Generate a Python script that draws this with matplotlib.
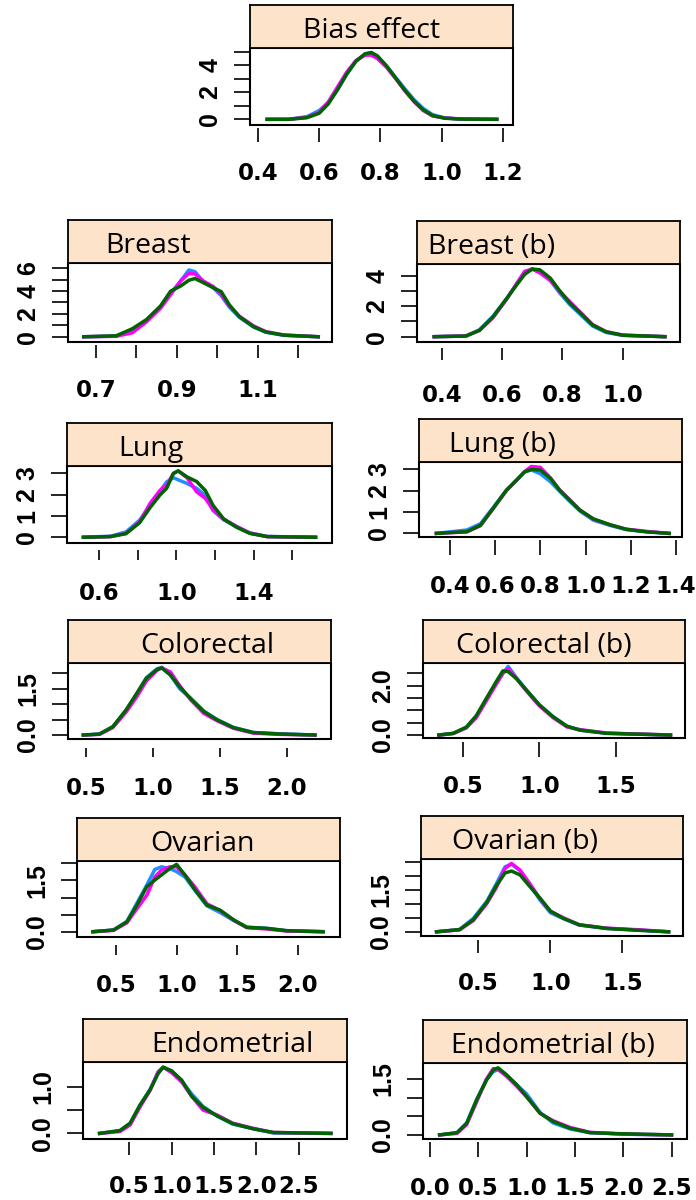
import numpy as np
import matplotlib
matplotlib.use("Agg")
import matplotlib.pyplot as plt
from matplotlib.patches import Rectangle

W, H = 696, 1200
STRIP_COLOR = "#fde3c9"
LINE_COLORS = ["#1e90ff", "#ff00ff", "#006400"]   # blue, magenta, dark green
XTICK_FONT = "DejaVu Sans"
YTICK_FONT = "Liberation Sans"
TITLE_FONT = ["Open Sans", "DejaVu Sans"]

# ---------------- data (density curves) ----------------
bias_x = [0.43, 0.50, 0.56, 0.60, 0.63, 0.66, 0.69, 0.72, 0.75, 0.77, 0.79, 0.82, 0.85, 0.88, 0.91, 0.94, 0.97, 1.01, 1.06, 1.18]
bias_blue = [0, 0.0, 0.2, 0.65, 1.25, 2.2, 3.35, 4.3, 4.85, 4.9, 4.65, 3.95, 3.1, 2.25, 1.45, 0.8, 0.35, 0.1, 0.02, 0]
bias_magenta = [0, 0.0, 0.15, 0.5, 1.3, 2.4, 3.5, 4.35, 4.75, 4.75, 4.5, 3.85, 3.0, 2.1, 1.3, 0.65, 0.25, 0.1, 0.03, 0]
bias_green = [0, 0.0, 0.12, 0.45, 1.15, 2.2, 3.35, 4.3, 4.85, 4.95, 4.7, 3.95, 3.05, 2.15, 1.35, 0.7, 0.28, 0.08, 0.02, 0]
bias_xt = [0.4, 0.6, 0.8, 1.0, 1.2]
bias_xl = ["0.4", "0.6", "0.8", "1.0", "1.2"]
bias_yt = [0, 1, 2, 3, 4, 5]
bias_yl = ["0", "", "2", "", "4", ""]

breast_x = [0.67, 0.75, 0.79, 0.825, 0.86, 0.885, 0.91, 0.93, 0.945, 0.965, 0.99, 1.01, 1.03, 1.055, 1.09, 1.12, 1.165, 1.25]
breast_blue = [0, 0.06, 0.45, 1.4, 2.6, 3.8, 4.9, 5.85, 5.7, 4.85, 4.3, 3.6, 2.6, 1.7, 0.85, 0.4, 0.12, 0]
breast_magenta = [0, 0.04, 0.35, 1.3, 2.5, 3.7, 4.9, 5.55, 5.5, 4.9, 4.4, 3.7, 2.7, 1.8, 0.95, 0.45, 0.15, 0]
breast_green = [0, 0.08, 0.7, 1.5, 2.7, 4.0, 4.45, 4.95, 5.1, 4.75, 4.3, 3.95, 2.8, 1.75, 0.88, 0.42, 0.14, 0]
breast_xt = [0.7, 0.8, 0.9, 1.0, 1.1, 1.2]
breast_xl = ["0.7", "", "0.9", "", "1.1", ""]
breast_yt = [0, 1, 2, 3, 4, 5, 6]
breast_yl = ["0", "", "2", "", "4", "", "6"]

breastb_x = [0.375, 0.48, 0.525, 0.57, 0.615, 0.65, 0.675, 0.70, 0.725, 0.76, 0.79, 0.825, 0.86, 0.90, 0.945, 1.0, 1.14]
breastb_blue = [0, 0.04, 0.45, 1.35, 2.5, 3.5, 4.15, 4.45, 4.25, 3.7, 2.9, 2.1, 1.45, 0.7, 0.28, 0.08, 0]
breastb_magenta = [0, 0.05, 0.4, 1.25, 2.45, 3.55, 4.3, 4.45, 4.2, 3.7, 3.0, 2.3, 1.6, 0.8, 0.33, 0.1, 0]
breastb_green = [0, 0.04, 0.42, 1.3, 2.5, 3.45, 4.1, 4.45, 4.4, 3.85, 3.05, 2.2, 1.55, 0.77, 0.32, 0.1, 0]
breastb_xt = [0.4, 0.6, 0.8, 1.0]
breastb_xl = ["0.4", "0.6", "0.8", "1.0"]
breastb_yt = [0, 1, 2, 3, 4]
breastb_yl = ["0", "", "2", "", "4"]

lung_x = [0.52, 0.66, 0.74, 0.81, 0.865, 0.915, 0.95, 0.985, 1.01, 1.055, 1.105, 1.15, 1.19, 1.245, 1.31, 1.38, 1.47, 1.72]
lung_blue = [0, 0.05, 0.25, 0.8, 1.5, 2.15, 2.6, 2.8, 2.7, 2.53, 2.3, 1.98, 1.25, 0.82, 0.5, 0.2, 0.04, 0]
lung_magenta = [0, 0.03, 0.18, 0.72, 1.6, 2.2, 2.45, 3.0, 3.12, 2.8, 2.14, 1.83, 1.3, 0.85, 0.52, 0.2, 0.03, 0]
lung_green = [0, 0.03, 0.17, 0.68, 1.4, 1.98, 2.3, 3.0, 3.12, 2.84, 2.62, 2.2, 1.5, 0.86, 0.48, 0.18, 0.03, 0]
lung_xt = [0.6, 0.8, 1.0, 1.2, 1.4, 1.6]
lung_xl = ["0.6", "", "1.0", "", "1.4", ""]
lung_yt = [0, 1, 2, 3]
lung_yl = ["0", "1", "2", "3"]

lungb_x = [0.34, 0.475, 0.535, 0.59, 0.65, 0.695, 0.73, 0.76, 0.80, 0.845, 0.885, 0.93, 0.975, 1.035, 1.11, 1.18, 1.27, 1.37]
lungb_blue = [0, 0.16, 0.45, 1.2, 2.03, 2.5, 2.88, 2.98, 2.8, 2.42, 1.98, 1.5, 1.05, 0.62, 0.37, 0.18, 0.08, 0]
lungb_magenta = [0, 0.07, 0.36, 1.15, 2.0, 2.5, 2.9, 3.14, 3.1, 2.6, 2.05, 1.58, 1.1, 0.66, 0.4, 0.2, 0.09, 0]
lungb_green = [0, 0.08, 0.38, 1.15, 2.03, 2.5, 2.88, 3.0, 2.97, 2.58, 2.03, 1.56, 1.09, 0.68, 0.4, 0.19, 0.07, 0]
lungb_xt = [0.4, 0.6, 0.8, 1.0, 1.2, 1.4]
lungb_xl = ["0.4", "0.6", "0.8", "1.0", "1.2", "1.4"]
lungb_yt = [0, 1, 2, 3]
lungb_yl = ["0", "1", "2", "3"]

colo_x = [0.48, 0.6, 0.7, 0.8, 0.88, 0.95, 1.03, 1.065, 1.13, 1.2, 1.28, 1.38, 1.48, 1.6, 1.75, 1.95, 2.21]
colo_blue = [0, 0.03, 0.27, 0.81, 1.35, 1.86, 2.15, 2.2, 1.95, 1.5, 1.2, 0.78, 0.5, 0.25, 0.08, 0.04, 0]
colo_magenta = [0, 0.02, 0.24, 0.75, 1.25, 1.75, 2.1, 2.18, 2.05, 1.6, 1.15, 0.7, 0.46, 0.22, 0.06, 0.02, 0]
colo_green = [0, 0.03, 0.27, 0.82, 1.36, 1.84, 2.13, 2.18, 1.95, 1.56, 1.19, 0.76, 0.49, 0.24, 0.08, 0.03, 0]
colo_xt = [0.5, 1.0, 1.5, 2.0]
colo_xl = ["0.5", "1.0", "1.5", "2.0"]
colo_yt = [0, 0.5, 1.0, 1.5, 2.0]
colo_yl = ["0.0", "", "", "1.5", ""]

colob_x = [0.34, 0.435, 0.52, 0.585, 0.655, 0.72, 0.76, 0.795, 0.85, 0.915, 1.0, 1.09, 1.18, 1.265, 1.44, 1.86]
colob_blue = [0, 0.07, 0.3, 0.74, 1.48, 2.12, 2.5, 2.78, 2.32, 1.82, 1.22, 0.74, 0.36, 0.2, 0.07, 0]
colob_magenta = [0, 0.06, 0.29, 0.7, 1.42, 2.1, 2.5, 2.7, 2.28, 1.78, 1.18, 0.7, 0.33, 0.22, 0.08, 0]
colob_green = [0, 0.07, 0.32, 0.78, 1.52, 2.2, 2.6, 2.57, 2.28, 1.82, 1.22, 0.74, 0.36, 0.2, 0.07, 0]
colob_xt = [0.5, 1.0, 1.5]
colob_xl = ["0.5", "1.0", "1.5"]
colob_yt = [0, 0.5, 1.0, 1.5, 2.0, 2.5]
colob_yl = ["0.0", "", "", "", "2.0", ""]

ovar_x = [0.31, 0.48, 0.59, 0.67, 0.755, 0.82, 0.875, 0.945, 1.0, 1.07, 1.15, 1.25, 1.36, 1.47, 1.58, 1.74, 1.91, 2.21]
ovar_blue = [0, 0.05, 0.3, 0.82, 1.37, 1.82, 1.9, 1.85, 1.76, 1.6, 1.22, 0.76, 0.56, 0.33, 0.13, 0.1, 0.03, 0]
ovar_magenta = [0, 0.04, 0.26, 0.66, 1.07, 1.6, 1.8, 1.9, 1.9, 1.66, 1.32, 0.82, 0.62, 0.34, 0.12, 0.08, 0.02, 0]
ovar_green = [0, 0.05, 0.29, 0.76, 1.32, 1.51, 1.66, 1.85, 1.97, 1.66, 1.24, 0.78, 0.63, 0.35, 0.13, 0.1, 0.03, 0]
ovar_xt = [0.5, 1.0, 1.5, 2.0]
ovar_xl = ["0.5", "1.0", "1.5", "2.0"]
ovar_yt = [0, 0.5, 1.0, 1.5, 2.0]
ovar_yl = ["0.0", "", "", "1.5", ""]

ovarb_x = [0.21, 0.37, 0.465, 0.56, 0.625, 0.685, 0.73, 0.79, 0.86, 0.93, 1.0, 1.09, 1.2, 1.39, 1.62, 1.82]
ovarb_blue = [0, 0.08, 0.48, 1.1, 1.72, 2.32, 2.42, 2.18, 1.65, 1.12, 0.68, 0.47, 0.24, 0.12, 0.06, 0]
ovarb_magenta = [0, 0.07, 0.4, 1.02, 1.58, 2.26, 2.44, 2.2, 1.7, 1.16, 0.73, 0.5, 0.25, 0.13, 0.07, 0]
ovarb_green = [0, 0.08, 0.43, 1.06, 1.65, 2.1, 2.17, 2.03, 1.6, 1.19, 0.74, 0.48, 0.25, 0.12, 0.05, 0]
ovarb_xt = [0.5, 1.0, 1.5]
ovarb_xl = ["0.5", "1.0", "1.5"]
ovarb_yt = [0, 0.5, 1.0, 1.5, 2.0, 2.5]
ovarb_yl = ["0.0", "", "", "1.5", "", ""]

endo_x = [0.15, 0.39, 0.51, 0.625, 0.745, 0.84, 0.9, 1.0, 1.12, 1.235, 1.37, 1.53, 1.72, 1.96, 2.2, 2.88]
endo_blue = [0, 0.06, 0.21, 0.6, 0.94, 1.3, 1.41, 1.34, 1.12, 0.85, 0.58, 0.38, 0.2, 0.1, 0.01, 0]
endo_magenta = [0, 0.04, 0.18, 0.56, 0.92, 1.32, 1.42, 1.3, 1.1, 0.8, 0.5, 0.4, 0.22, 0.11, 0.02, 0]
endo_green = [0, 0.06, 0.22, 0.6, 0.93, 1.28, 1.42, 1.34, 1.14, 0.8, 0.56, 0.38, 0.21, 0.1, 0.02, 0]
endo_xt = [0.5, 1.0, 1.5, 2.0, 2.5]
endo_xl = ["0.5", "1.0", "1.5", "2.0", "2.5"]
endo_yt = [0, 0.5, 1.0]
endo_yl = ["0.0", "", "1.0"]

endob_x = [0.1, 0.28, 0.38, 0.485, 0.585, 0.655, 0.705, 0.79, 0.9, 1.0, 1.14, 1.275, 1.45, 1.655, 2.0, 2.5]
endob_blue = [0, 0.06, 0.32, 0.96, 1.48, 1.7, 1.75, 1.6, 1.34, 1.1, 0.6, 0.32, 0.16, 0.06, 0.02, 0]
endob_magenta = [0, 0.04, 0.28, 0.9, 1.5, 1.78, 1.76, 1.58, 1.3, 1.02, 0.58, 0.38, 0.2, 0.07, 0.02, 0]
endob_green = [0, 0.06, 0.31, 0.95, 1.47, 1.74, 1.8, 1.62, 1.34, 1.03, 0.58, 0.36, 0.18, 0.06, 0.03, 0]
endob_xt = [0.0, 0.5, 1.0, 1.5, 2.0, 2.5]
endob_xl = ["0.0", "0.5", "1.0", "1.5", "2.0", "2.5"]
endob_yt = [0, 0.5, 1.0, 1.5]
endob_yl = ["0.0", "", "", "1.5"]

panels = [
    ("Bias effect", bias_x, (bias_blue, bias_magenta, bias_green), bias_xt, bias_xl, bias_yt, bias_yl),
    ("Breast", breast_x, (breast_blue, breast_magenta, breast_green), breast_xt, breast_xl, breast_yt, breast_yl),
    ("Breast (b)", breastb_x, (breastb_blue, breastb_magenta, breastb_green), breastb_xt, breastb_xl, breastb_yt, breastb_yl),
    ("Lung", lung_x, (lung_blue, lung_magenta, lung_green), lung_xt, lung_xl, lung_yt, lung_yl),
    ("Lung (b)", lungb_x, (lungb_blue, lungb_magenta, lungb_green), lungb_xt, lungb_xl, lungb_yt, lungb_yl),
    ("Colorectal", colo_x, (colo_blue, colo_magenta, colo_green), colo_xt, colo_xl, colo_yt, colo_yl),
    ("Colorectal (b)", colob_x, (colob_blue, colob_magenta, colob_green), colob_xt, colob_xl, colob_yt, colob_yl),
    ("Ovarian", ovar_x, (ovar_blue, ovar_magenta, ovar_green), ovar_xt, ovar_xl, ovar_yt, ovar_yl),
    ("Ovarian (b)", ovarb_x, (ovarb_blue, ovarb_magenta, ovarb_green), ovarb_xt, ovarb_xl, ovarb_yt, ovarb_yl),
    ("Endometrial", endo_x, (endo_blue, endo_magenta, endo_green), endo_xt, endo_xl, endo_yt, endo_yl),
    ("Endometrial (b)", endob_x, (endob_blue, endob_magenta, endob_green), endob_xt, endob_xl, endob_yt, endob_yl),
]

# ---------------- layout (pixels of the 696x1200 canvas) ----------------
# box = (left, top, right, bottom); gap/tl = x tick offset and length; laby = x label centre; tx = title centre
layout = [
    dict(box=(250, 48, 513, 125), xlim=(0.374, 1.233), ylim=(-0.42, 5.28), gap=3, tl=14, laby=170, tx=372),
    dict(box=(68, 263, 332, 342), xlim=(0.631, 1.284), ylim=(-0.46, 6.46), gap=3, tl=13, laby=387, tx=148),
    dict(box=(417, 264, 680, 342), xlim=(0.318, 1.19), ylim=(-0.35, 4.78), gap=6, tl=12, laby=392, tx=492),
    dict(box=(67, 466, 332, 543), xlim=(0.435, 1.805), ylim=(-0.27, 3.35), gap=7, tl=10, laby=590, tx=151),
    dict(box=(419, 462, 682, 537), xlim=(0.263, 1.427), ylim=(-0.17, 3.35), gap=3, tl=15, laby=583, tx=502),
    dict(box=(68, 663, 331, 739), xlim=(0.365, 2.33), ylim=(-0.13, 2.34), gap=9, tl=9, laby=785, tx=207),
    dict(box=(423, 663, 685, 738), xlim=(0.236, 1.955), ylim=(-0.12, 2.92), gap=4, tl=15, laby=783, tx=544),
    dict(box=(77, 861, 340, 937), xlim=(0.178, 2.35), ylim=(-0.155, 2.07), gap=8, tl=10, laby=982, tx=202),
    dict(box=(421, 859, 683, 936), xlim=(0.102, 1.92), ylim=(-0.15, 2.6), gap=4, tl=13, laby=980, tx=525),
    dict(box=(83, 1062, 347, 1139), xlim=(-0.046, 3.07), ylim=(-0.12, 1.53), gap=3, tl=13, laby=1183, tx=232),
    dict(box=(423, 1063, 687, 1139), xlim=(-0.072, 2.66), ylim=(-0.11, 1.93), gap=3, tl=15, laby=1185, tx=553),
]

PT = 0.72            # points per pixel at dpi 100
XFS, YFS = 16.5, 18  # tick label sizes (pt)
STRIP_H = 43
YTICK_LEN = 16


def px_axes(fig, l, t, r, b):
    return fig.add_axes([l / W, 1 - b / H, (r - l) / W, (b - t) / H])


def draw_panel(fig, title, x, curves, xt, xl, yt, yl, lay):
    l, t, r, b = lay["box"]
    ax = px_axes(fig, l, t, r, b)
    for y, c in zip(curves, LINE_COLORS):
        ax.plot(x, y, color=c, lw=2.5, solid_joinstyle="round")
    ax.set_xlim(*lay["xlim"])
    ax.set_ylim(*lay["ylim"])

    for s in ax.spines.values():
        s.set_visible(False)
    ax.spines["bottom"].set_position(("outward", lay["gap"] * PT))
    ax.add_patch(Rectangle((0, 0), 1, 1, transform=ax.transAxes, fill=False,
                           lw=1.5, ec="black", clip_on=False, zorder=5))

    # x axis: R style ticks detached from the box
    em = XFS / PT
    tick_end = b + lay["gap"] + lay["tl"]
    xpad = (lay["laby"] - 0.37 * em - tick_end) * PT
    ax.set_xticks(xt)
    ax.set_xticklabels(xl)
    ax.tick_params(axis="x", length=lay["tl"] * PT, width=1.2, pad=xpad,
                   labelsize=XFS)

    # y axis: rotated labels
    em = YFS / PT
    ypad = (42 - 0.57 * em - YTICK_LEN) * PT
    ax.set_yticks(yt)
    ax.set_yticklabels(yl)
    ax.tick_params(axis="y", length=YTICK_LEN * PT, width=1.2, pad=ypad,
                   labelsize=YFS)
    for lab in ax.get_xticklabels():
        lab.set_fontfamily(XTICK_FONT)
        lab.set_fontweight("bold")
    for lab in ax.get_yticklabels():
        lab.set_fontfamily(YTICK_FONT)
        lab.set_fontweight("bold")
        lab.set_rotation(90)
        lab.set_va("center")

    # strip header
    sx = px_axes(fig, l, t - STRIP_H, r, t)
    sx.set_facecolor(STRIP_COLOR)
    sx.set_xticks([])
    sx.set_yticks([])
    for s in sx.spines.values():
        s.set_linewidth(1.3)
    sx.text((lay["tx"] - l) / (r - l), 10 / STRIP_H, title, ha="center", va="baseline",
            fontsize=20.5, family=TITLE_FONT, transform=sx.transAxes)


fig = plt.figure(figsize=(W / 100, H / 100), dpi=100)
for (title, x, curves, xt, xl, yt, yl), lay in zip(panels, layout):
    draw_panel(fig, title, x, curves, xt, xl, yt, yl, lay)

fig.savefig("out.png", dpi=100)
